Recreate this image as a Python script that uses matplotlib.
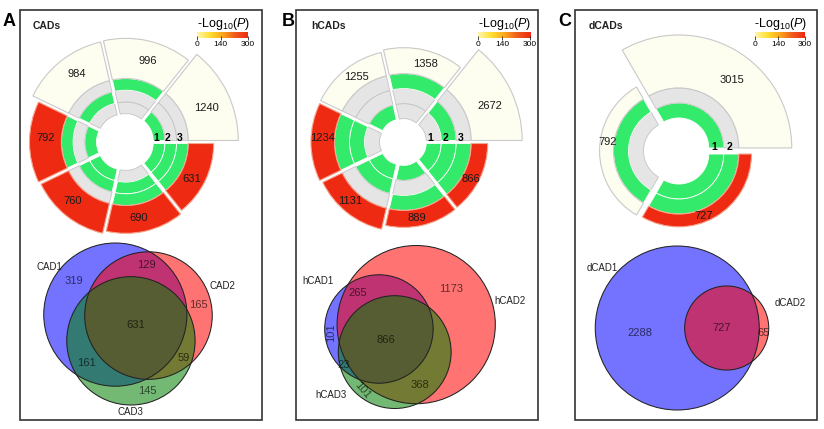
import numpy as np
import matplotlib
matplotlib.use("Agg")
import matplotlib.pyplot as plt
from matplotlib.patches import Wedge, Circle, Rectangle
from matplotlib.colors import LinearSegmentedColormap, Normalize

plt.rcParams['font.family'] = ['Liberation Sans', 'DejaVu Sans']
plt.rcParams['mathtext.fontset'] = 'custom'
plt.rcParams['mathtext.rm'] = 'Liberation Sans'
plt.rcParams['mathtext.it'] = 'Liberation Sans:italic'

# exclusive Venn region counts (membership pattern -> count)
cad_sets = ['CAD1', 'CAD2', 'CAD3']
cad_patterns = ['100', '010', '001', '110', '101', '011', '111']
cad_counts = [319, 165, 145, 129, 161, 59, 631]
cad_logp = [np.nan, np.nan, np.nan, 300, 300, 300, 300]

hcad_sets = ['hCAD1', 'hCAD2', 'hCAD3']
hcad_patterns = ['100', '010', '001', '110', '101', '011', '111']
hcad_counts = [101, 1173, 101, 265, 23, 368, 866]
hcad_logp = [np.nan, np.nan, np.nan, 300, 300, 300, 300]

dcad_sets = ['dCAD1', 'dCAD2']
dcad_patterns = ['10', '01', '11']
dcad_counts = [2288, 65, 727]
dcad_logp = [np.nan, np.nan, 300]

cbar_ticks = [0, 140, 300]

W, H = 824, 429
GREEN = '#33ea6a'
GREY = '#e5e5e5'
GREY_EDGE = '#c4c4c4'
PALE = '#fdfdf0'
cmap = LinearSegmentedColormap.from_list(
    'p', ['#fff6b0', '#ffe033', '#fba81e', '#f05a1e', '#ee2a12'])
norm = Normalize(0, 300)
venn_colors = ['#0000ff', '#ff0000', '#008000']


def yy(y):
    return H - y


def fig_rect(x0, y0, x1, y1):
    return [x0 / W, 1 - y1 / H, (x1 - x0) / W, (y1 - y0) / H]


def overlap_size(pat, pats, counts):
    tot = 0
    for q, c in zip(pats, counts):
        if all(qb == '1' for pb, qb in zip(pat, q) if pb == '1'):
            tot += c
    return tot


def lens(r1, r2, d):
    if d >= r1 + r2:
        return 0.0
    if d <= abs(r1 - r2):
        return np.pi * min(r1, r2) ** 2
    a1 = np.arccos((d * d + r1 * r1 - r2 * r2) / (2 * d * r1))
    a2 = np.arccos((d * d + r2 * r2 - r1 * r1) / (2 * d * r2))
    k = np.sqrt((-d + r1 + r2) * (d + r1 - r2) * (d - r1 + r2) * (d + r1 + r2))
    return r1 * r1 * a1 + r2 * r2 * a2 - 0.5 * k


def solve_d(r1, r2, area):
    lo, hi = abs(r1 - r2), r1 + r2
    for _ in range(80):
        mid = (lo + hi) / 2
        if lens(r1, r2, mid) > area:
            lo = mid
        else:
            hi = mid
    return (lo + hi) / 2


fig = plt.figure(figsize=(W / 100, H / 100), dpi=100)
ax = fig.add_axes([0, 0, 1, 1])
ax.set_xlim(0, W)
ax.set_ylim(0, H)
ax.axis('off')


def circos(cx, cy, pats, counts, logp, r0, tw, hmax, shift, turn):
    n_sets = len(pats[0])
    sizes = [overlap_size(p, pats, counts) for p in pats]
    order = sorted(range(len(pats)), key=lambda i: (pats[i].count('1'), -sizes[i]))
    step = 360.0 / len(order)
    big = max(sizes)
    cy = yy(cy)
    for k, i in enumerate(order):
        a1, a2 = k * step, (k + 1) * step
        mid = np.radians((a1 + a2) / 2)
        ox, oy = cx + shift * np.cos(mid), cy + shift * np.sin(mid)
        for t, bit in enumerate(pats[i]):
            ri = r0 + t * tw
            if bit == '1':
                fc, ec = GREEN, 'white'
            else:
                fc, ec = GREY, GREY_EDGE
            ax.add_patch(Wedge((ox, oy), ri + tw, a1, a2, width=tw,
                               fc=fc, ec=ec, lw=0.6, zorder=2))
        rt = r0 + n_sets * tw
        h = hmax * sizes[i] / big
        if np.isnan(logp[i]):
            fc, ec = PALE, '#c9c9c9'
        else:
            fc, ec = cmap(norm(logp[i])), '#f6a48e'
        ax.add_patch(Wedge((ox, oy), rt + h, a1, a2, width=h,
                           fc=fc, ec=ec, lw=0.8, zorder=2))
        tm = mid + np.radians(turn)
        rm = rt + h / 2
        ax.text(ox + rm * np.cos(tm), oy + rm * np.sin(tm), str(sizes[i]),
                ha='center', va='center', fontsize=8, color='#1a1a1a', zorder=3)
    for t in range(n_sets):
        ax.text(cx + r0 + (t + 0.5) * tw, cy + 4, str(t + 1), ha='center',
                va='center', fontsize=7.5, fontweight='bold', zorder=4)


def venn(sets, pats, counts, center, height, rot, set_lab, lab_rot):
    n = len(sets)
    sizes = []
    for i in range(n):
        p = ''.join('1' if j == i else '0' for j in range(n))
        sizes.append(overlap_size(p, pats, counts))
    r = np.sqrt(np.array(sizes) / np.pi)

    def pair(i, j):
        p = ''.join('1' if k in (i, j) else '0' for k in range(n))
        return solve_d(r[i], r[j], overlap_size(p, pats, counts))

    d12 = pair(0, 1)
    pts = [np.array([0.0, 0.0]), np.array([d12, 0.0])]
    if n == 3:
        d13, d23 = pair(0, 2), pair(1, 2)
        x = (d13 ** 2 - d23 ** 2 + d12 ** 2) / (2 * d12)
        pts.append(np.array([x, -np.sqrt(max(d13 ** 2 - x ** 2, 0))]))
    th = np.radians(rot)
    R = np.array([[np.cos(th), -np.sin(th)], [np.sin(th), np.cos(th)]])
    pts = np.array([R @ p for p in pts])
    lo = (pts - r[:, None]).min(axis=0)
    hi = (pts + r[:, None]).max(axis=0)
    s = height / (hi[1] - lo[1])
    target = np.array([center[0], yy(center[1])])
    pts = (pts - (lo + hi) / 2) * s + target
    r = r * s

    for i in range(n):
        ax.add_patch(Circle(pts[i], r[i], fc=venn_colors[i], ec='none',
                            alpha=0.55, zorder=2))
    for i in range(n):
        ax.add_patch(Circle(pts[i], r[i], fc='none', ec='#222222', lw=0.75, zorder=3))
        ang, pad = set_lab[i]
        a = np.radians(ang)
        ax.text(pts[i][0] + (r[i] + pad) * np.cos(a), pts[i][1] + (r[i] + pad) * np.sin(a),
                sets[i], ha='center', va='center', fontsize=7, color='#222222', zorder=4)

    # label spots: deepest point of each exclusive region
    lo = (pts - r[:, None]).min(axis=0)
    hi = (pts + r[:, None]).max(axis=0)
    gx, gy = np.meshgrid(np.arange(lo[0], hi[0], 0.5), np.arange(lo[1], hi[1], 0.5))
    dist = np.array([np.hypot(gx - p[0], gy - p[1]) for p in pts])
    inside = dist < r[:, None, None]
    depth = np.abs(dist - r[:, None, None]).min(axis=0)
    for pat, c in zip(pats, counts):
        mask = np.ones_like(gx, dtype=bool)
        for i, b in enumerate(pat):
            mask &= inside[i] if b == '1' else ~inside[i]
        if not mask.any():
            continue
        dd = np.where(mask, depth, -1)
        k = np.unravel_index(np.argmax(dd), dd.shape)
        ax.text(gx[k], gy[k], str(c), ha='center', va='center', fontsize=8,
                rotation=lab_rot.get(pat, 0), color='black', alpha=0.62, zorder=4)


panels = [
    dict(letter='A', letter_x=9, title='CADs', title_x=33, frame=(20, 10, 262, 420),
         sets=cad_sets, pats=cad_patterns, counts=cad_counts, logp=cad_logp,
         circ=(125, 142), r0=25, tw=11.7, hmax=50, turn=-3,
         cbar=(197, 32, 248, 38), venn_c=(128, 324), venn_h=162, venn_rot=-1.7,
         set_lab=[(144, 10), (22, 16), (-90, 7)], lab_rot={}),
    dict(letter='B', letter_x=288, title='hCADs', title_x=311, frame=(296, 10, 538, 420),
         sets=hcad_sets, pats=hcad_patterns, counts=hcad_counts, logp=hcad_logp,
         circ=(403, 142), r0=20, tw=15, hmax=51, turn=-3,
         cbar=(478, 32, 530, 38), venn_c=(410, 327), venn_h=163, venn_rot=6.7,
         set_lab=[(142, 23), (14, 18), (-146, 21)], lab_rot={'100': 90, '001': -50}),
    dict(letter='C', letter_x=565, title='dCADs', title_x=589, frame=(575, 10, 817, 420),
         sets=dcad_sets, pats=dcad_patterns, counts=dcad_counts, logp=dcad_logp,
         circ=(677, 151), r0=30, tw=15, hmax=53, turn=-8,
         cbar=(755, 32, 805, 38), venn_c=(682, 328), venn_h=164, venn_rot=0,
         set_lab=[(141, 14), (22, 26)], lab_rot={}),
]

for p in panels:
    x0, y0, x1, y1 = p['frame']
    ax.add_patch(Rectangle((x0, yy(y1)), x1 - x0, y1 - y0, fc='none',
                           ec='#333333', lw=1.2, zorder=5))
    ax.text(p['letter_x'], yy(22), p['letter'], ha='center', va='center',
            fontsize=13, fontweight='bold')
    ax.text(p['title_x'], yy(26), p['title'], ha='left', va='center',
            fontsize=7.5, fontweight='bold', color='#222222')

    circos(p['circ'][0], p['circ'][1], p['pats'], p['counts'], p['logp'],
           p['r0'], p['tw'], p['hmax'], 3.5, p['turn'])
    venn(p['sets'], p['pats'], p['counts'], p['venn_c'], p['venn_h'],
         p['venn_rot'], p['set_lab'], p['lab_rot'])

    cx0, cy0, cx1, cy1 = p['cbar']
    ax.text((cx0 + cx1) / 2 + 1, yy(24), r'-Log$_{10}$($\mathit{P}$)', ha='center',
            va='center', fontsize=9)
    cax = fig.add_axes(fig_rect(cx0, cy0, cx1, cy1))
    cax.imshow(np.linspace(0, 300, 256)[None, :], cmap=cmap, norm=norm,
               aspect='auto', extent=[0, 300, 0, 1])
    cax.set_xticks(cbar_ticks)
    cax.set_yticks([])
    cax.tick_params(axis='x', length=3, width=0.5, direction='inout',
                    labelsize=6, pad=0.5)
    for s in cax.spines.values():
        s.set_visible(False)

fig.savefig('out.png', dpi=100, facecolor='white')
